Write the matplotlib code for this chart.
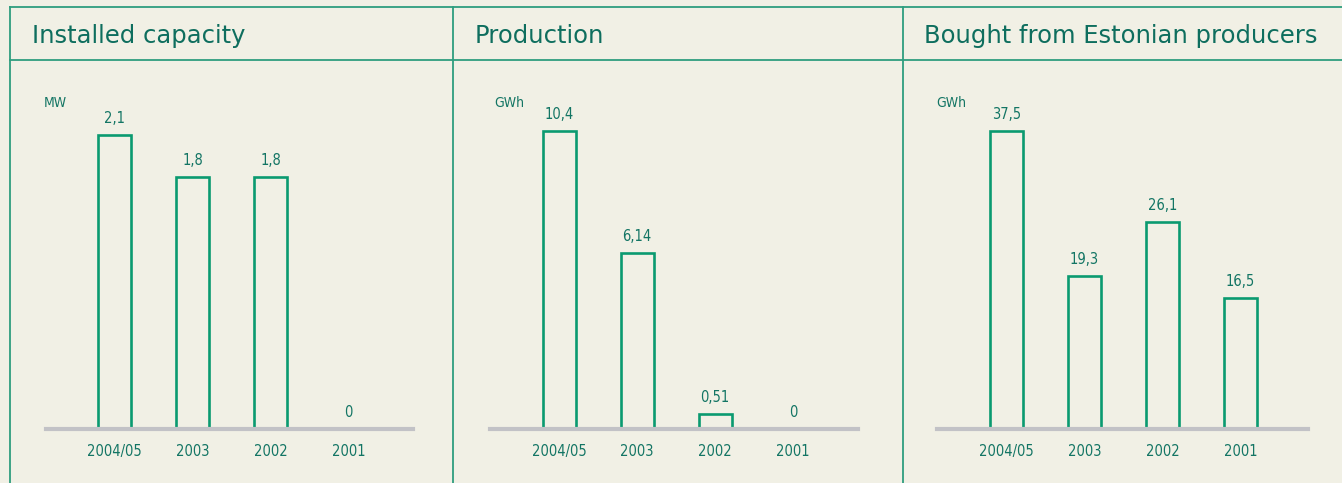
import matplotlib

matplotlib.use("Agg")
import matplotlib.pyplot as plt
from matplotlib.lines import Line2D

W, H = 1342, 483
BG = "#f1f0e5"
FRAME = "#2f9e7f"
BAR = "#0a9a70"
TEXT = "#137564"
BASE = "#c2c2c6"

years = ["2004/05", "2003", "2002", "2001"]
capacity_mw = [2.1, 1.8, 1.8, 0]
production_gwh = [10.4, 6.14, 0.51, 0]
bought_gwh = [37.5, 19.3, 26.1, 16.5]
capacity_labels = ["2,1", "1,8", "1,8", "0"]
production_labels = ["10,4", "6,14", "0,51", "0"]
bought_labels = ["37,5", "19,3", "26,1", "16,5"]

titles = ["Installed capacity", "Production", "Bought from Estonian producers"]
units = ["MW", "GWh", "GWh"]

# panel geometry in pixels: (baseline left, baseline right, first bar centre, px per unit)
panels = [
    (capacity_mw, capacity_labels, 46, 413, 114.5, 140.0),
    (production_gwh, production_labels, 490, 858, 559.0, 28.65),
    (bought_gwh, bought_labels, 937, 1308, 1006.5, 7.94),
]
title_x = [32, 475, 924]
unit_x = [44, 494, 936]

NUM_FONT = ["Liberation Sans Narrow", "DejaVu Sans"]

fig = plt.figure(figsize=(W / 100, H / 100), dpi=100, facecolor=BG)


def fx(px):
    return px / W


def fy(py):
    return 1 - py / H


# frame lines
for seg in [((10, W), (7, 7)), ((10, W), (60, 60)), ((10, 10), (7, H)),
            ((453, 453), (7, H)), ((903, 903), (7, H))]:
    xs, ys = seg
    fig.add_artist(Line2D([fx(x) for x in xs], [fy(y) for y in ys],
                          color=FRAME, lw=1.3, transform=fig.transFigure))

base_y = 429
top_y = 95
spacing = 78.0
for i, (vals, labs, x0, x1, c0, scale) in enumerate(panels):
    ax = fig.add_axes([fx(x0), fy(base_y), (x1 - x0) / W, (base_y - top_y) / H])
    ax.set_facecolor("none")
    ax.set_xlim((x0 - c0) / spacing, (x1 - c0) / spacing)
    ax.set_ylim(0, (base_y - top_y) / scale)
    xs = range(len(years))
    ax.bar(xs, vals, width=33 / spacing, facecolor="none", edgecolor=BAR,
           linewidth=1.9, zorder=2)
    ax.axhline(0, color=BASE, lw=3, zorder=3, clip_on=False)
    for x, v, lab in zip(xs, vals, labs):
        ax.annotate(lab, (x, v), xytext=(0, 12), textcoords="offset points",
                    ha="center", va="center", color=TEXT, fontsize=10.5,
                    family=NUM_FONT, fontstretch="condensed")
    ax.set_xticks(list(xs))
    ax.set_xticklabels(years, color=TEXT, fontsize=10.5, family=NUM_FONT,
                       fontstretch="condensed")
    ax.tick_params(axis="x", length=0, pad=11)
    ax.set_yticks([])
    for s in ax.spines.values():
        s.set_visible(False)

    fig.text(fx(title_x[i]), fy(36), titles[i], ha="left", va="center",
             color="#0e6e5e", fontsize=17.5, fontweight="medium")
    fig.text(fx(unit_x[i]), fy(103), units[i], ha="left", va="center",
             color=TEXT, fontsize=10, family=NUM_FONT, fontstretch="condensed")

fig.savefig("out.png", dpi=100, facecolor=BG)
